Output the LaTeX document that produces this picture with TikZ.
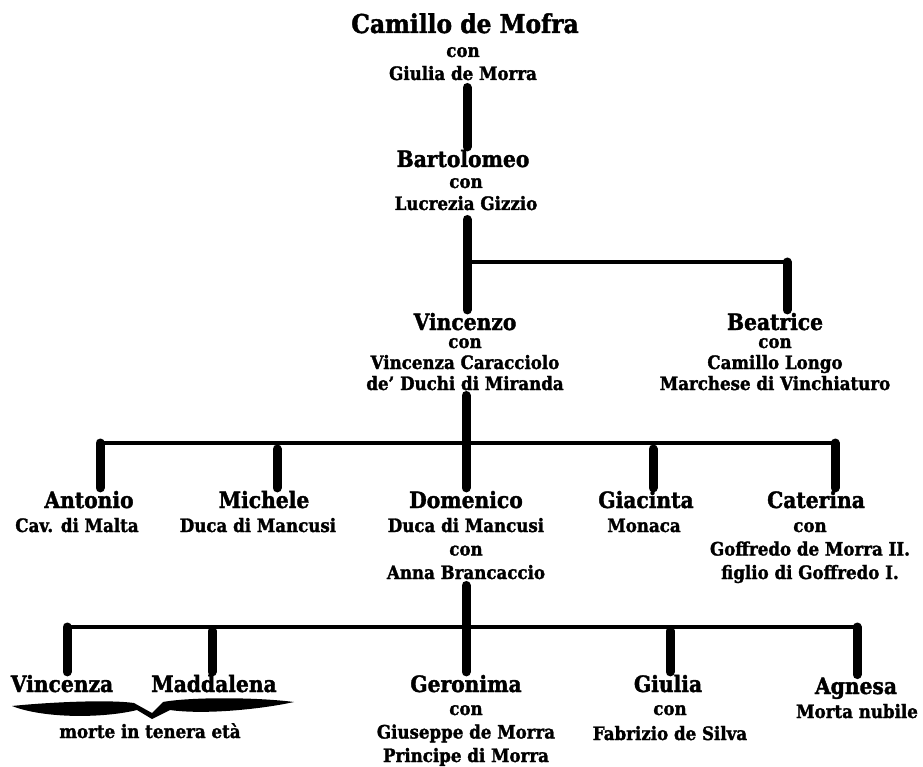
\documentclass[tikz,border=0pt]{standalone}
\usepackage{fontspec}
\setmainfont{DejaVu Serif Bold}[FakeStretch=0.9, FakeBold=1.6]
\usetikzlibrary{positioning}

\tikzset{
  head/.style={anchor=base, inner sep=0pt, font=\fontsize{26}{26}\selectfont},
  person/.style={anchor=base, inner sep=0pt, outer sep=3pt, font=\fontsize{22.5}{22.5}\selectfont},
  % notes are placed by the baseline of their last line
  note/.style={anchor=base, inner sep=0pt, align=center, font=\fontsize{18.5}{#1}\selectfont},
  note/.default=23,
  stem/.style={line width=9pt, line cap=round},
  rail/.style={line width=4.5pt},
}

\begin{document}
\begin{tikzpicture}[x=1pt,y=-1pt]
\useasboundingbox (0,0) rectangle (923,767);

% first generations
\node [head] (camillo) at (465,33) {Camillo de Mofra};
\node [note=23] (camillo-con) at (463,80) {con\\Giulia de Morra};
\node [person] (bartolomeo) at (463,167) {Bartolomeo};
\node [note=22] (bartolomeo-con) at (466,210) {con\\Lucrezia Gizzio};
\node [person] (vincenzo) at (465,330) {Vincenzo};
\node [note=21] (vincenzo-con) at (465,390) {con\\Vincenza Caracciolo\\de' Duchi di Miranda};
\node [person] (beatrice) at (775,330) {Beatrice};
\node [note=21] (beatrice-con) at (775,390) {con\\Camillo Longo\\Marchese di Vinchiaturo};

% children of Vincenzo
\node [person] (antonio) at (89,508) {Antonio};
\node [note] (antonio-note) at (77,532) {Cav. di Malta};
\node [person] (michele) at (264,508) {Michele};
\node [note] (michele-note) at (258,532) {Duca di Mancusi};
\node [person] (domenico) at (466,508) {Domenico};
\node [note=23.5] (domenico-note) at (466,579) {Duca di Mancusi\\con\\Anna Brancaccio};
\node [person] (giacinta) at (646,508) {Giacinta};
\node [note] (giacinta-note) at (644,532) {Monaca};
\node [person] (caterina) at (816,508) {Caterina};
\node [note=23.5] (caterina-note) at (810,579) {con\\Goffredo de Morra II.\\figlio di Goffredo I.};

% children of Domenico
\node [person] (vincenza) at (62,692) {Vincenza};
\node [person] (maddalena) at (214,692) {Maddalena};
\node [person] (geronima) at (466,692) {Geronima};
\node [note=23.5] (geronima-note) at (466,762) {con\\Giuseppe de Morra\\Principe di Morra};
\node [person] (giulia) at (668,692) {Giulia};
\node [note=25] (giulia-note) at (670,740) {con\\Fabrizio de Silva};
\node [person] (agnesa) at (856,694) {Agnesa};
\node [note] (agnesa-note) at (857,718) {Morta nubile};
\node [note] (infant-note) at (150,738) {morte in tenera età};

% brace under the two girls
\fill (12,706) .. controls (40,703) and (105,699) .. (134,703) -- (152,713)
  -- (163,702) .. controls (190,697) and (255,697) .. (294,702)
  .. controls (262,709) and (205,715) .. (170,710) -- (152,719)
  -- (137,710) .. controls (105,718) and (45,719) .. (12,706) -- cycle;

% rail corners
\coordinate (fork1) at (467,262);
\coordinate (beatrice-top) at (787,262);
\coordinate (fork2) at (466,443);
\coordinate (antonio-top) at (100,443);
\coordinate (michele-top) at (277,443);
\coordinate (giacinta-top) at (653,443);
\coordinate (caterina-top) at (835,443);
\coordinate (fork3) at (466,627);
\coordinate (vincenza-top) at (67,627);
\coordinate (maddalena-top) at (212,627);
\coordinate (giulia-top) at (670,627);
\coordinate (agnesa-top) at (857,627);

% descent lines
\draw [stem] ([yshift=-7pt]camillo-con.south -| fork1) -- (bartolomeo.north -| fork1);
\draw [stem] ([yshift=-9pt]bartolomeo-con.south -| fork1) -- (vincenzo.north -| fork1);
\draw [rail] (fork1) -- (beatrice-top);
\draw [stem] (beatrice-top) -- (beatrice.north -| beatrice-top);

\draw [stem] ([yshift=-5pt]vincenzo-con.south -| fork2) -- (domenico.north -| fork2);
\draw [rail] (antonio-top) -- (caterina-top);
\draw [stem] (antonio-top) -- (antonio.north -| antonio-top);
\draw [stem] ([yshift=-6pt]michele-top) -- (michele.north -| michele-top);
\draw [stem] ([yshift=-6pt]giacinta-top) -- (giacinta.north -| giacinta-top);
\draw [stem] (caterina-top) -- (caterina.north -| caterina-top);

\draw [stem] ([yshift=-6pt]domenico-note.south -| fork3) -- (geronima.north -| fork3);
\draw [rail] (vincenza-top) -- (agnesa-top);
\draw [stem] (vincenza-top) -- (vincenza.north -| vincenza-top);
\draw [stem] ([yshift=-4pt]maddalena-top) -- (maddalena.north -| maddalena-top);
\draw [stem] ([yshift=-4pt]giulia-top) -- (giulia.north -| giulia-top);
\draw [stem] (agnesa-top) -- (agnesa.north -| agnesa-top);
\end{tikzpicture}
\end{document}
